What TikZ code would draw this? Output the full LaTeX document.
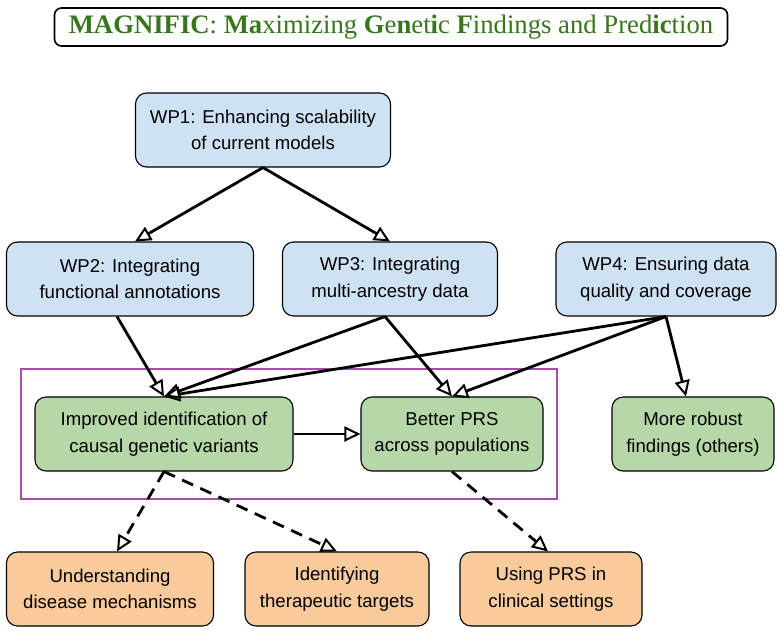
\documentclass[tikz,border=0pt]{standalone}
\usepackage{fontspec}
\setmainfont{Liberation Sans}
\newfontfamily\titlefont{Liberation Serif}
\usetikzlibrary{arrows.meta}
\definecolor{wpblue}{HTML}{CFE2F3}
\definecolor{resgreen}{HTML}{B6D7A8}
\definecolor{useorange}{HTML}{F9CB9C}
\definecolor{boxpurple}{HTML}{A64DA6}
\definecolor{titlegreen}{HTML}{38761D}
\begin{document}
\begin{tikzpicture}[x=1pt,y=-1pt,
    box/.style={draw, rounded corners=11pt, line width=1.1pt, align=center,
      font=\fontsize{18.6}{26.5}\selectfont, inner sep=0pt, minimum height=74pt},
    wp/.style={box, fill=wpblue},
    res/.style={box, fill=resgreen},
    use/.style={box, fill=useorange},
    link/.style={-{Triangle[open,length=16pt,width=15pt,line width=2pt]}, line width=2.8pt},
    impact/.style={link, dash pattern=on 12pt off 8pt}]
  \useasboundingbox (0,0) rectangle (782,638);
  % title
  \node[draw, rounded corners=7pt, line width=1.6pt, minimum width=673pt, minimum height=38pt,
    text=titlegreen, font=\titlefont\fontsize{26.7}{26.7}\selectfont] (title) at (391,27)
    {\textbf{MAGNIFIC}: \textbf{Ma}ximizing \textbf{G}e\textbf{n}et\textbf{i}c \textbf{F}indings and Pred\textbf{ic}tion};
  % work packages
  \node[wp, minimum width=255pt] (wp1) at (263,130) {WP1: Enhancing scalability\\of current models};
  \node[wp, minimum width=247pt] (wp2) at (130,279) {WP2: Integrating\\functional annotations};
  \node[wp, minimum width=215pt] (wp3) at (390,279) {WP3: Integrating\\multi-ancestry data};
  \node[wp, minimum width=220pt] (wp4) at (666,279) {WP4: Ensuring data\\quality and coverage};
  % results
  \draw[boxpurple, line width=2.8pt] (21,369) rectangle (557,499);
  \node[res, minimum width=258pt] (causal) at (164,434) {Improved identification of\\causal genetic variants};
  \node[res, minimum width=182pt] (prs) at (452,434) {Better PRS\\across populations};
  \node[res, minimum width=162pt] (robust) at (693,434) {More robust\\findings (others)};
  % impact
  \node[use, minimum width=207pt] (mech) at (110,589) {Understanding\\disease mechanisms};
  \node[use, minimum width=184pt] (target) at (337,589) {Identifying\\therapeutic targets};
  \node[use, minimum width=182pt] (clinic) at (551,589) {Using PRS in\\clinical settings};
  % connectors
  \draw[link] (wp1.south) -- ([xshift=5pt]wp2.north);
  \draw[link] (wp1.south) -- (wp3.north);
  \draw[link] ([xshift=-13pt]wp2.south) -- (causal.north);
  \draw[link] ([xshift=-5pt]wp3.south) -- (causal.north);
  \draw[link] ([xshift=-5pt]wp3.south) -- (prs.north);
  \foreach \to in {causal,prs} \draw[link] (wp4.south) -- (\to.north);
  \draw[link] (wp4.south) -- ([xshift=-7pt]robust.north);
  \draw[link] (causal.east) -- (prs.west);
  \draw[impact] (causal.south) -- ([xshift=7pt]mech.north);
  \draw[impact] (causal.south) -- (target.north);
  \draw[impact] (prs.south) -- ([xshift=-3pt]clinic.north);
\end{tikzpicture}
\end{document}
